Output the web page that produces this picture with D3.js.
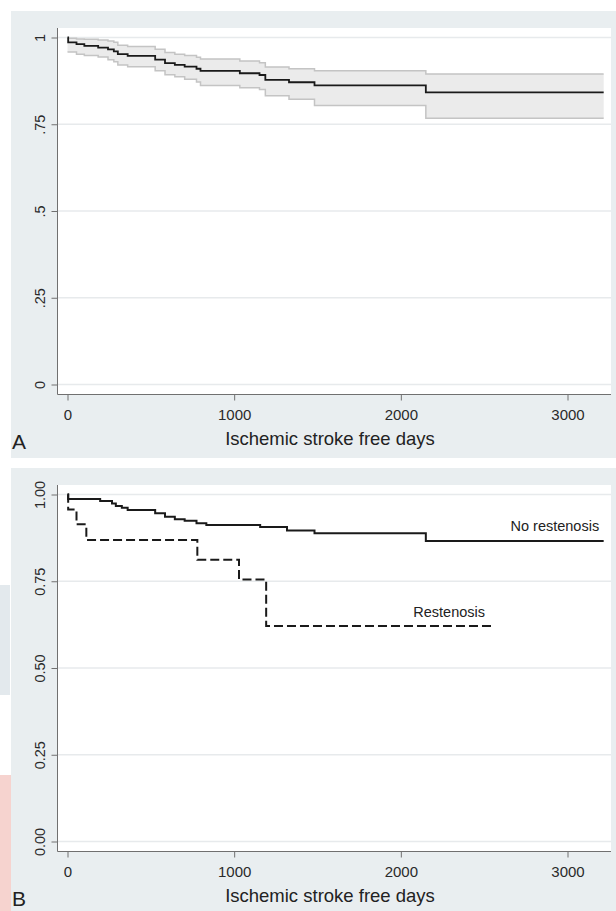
<!DOCTYPE html>
<html>
<head>
<meta charset="utf-8">
<script src="https://cdn.jsdelivr.net/npm/d3@7/dist/d3.min.js"></script>
<style>
  body { margin: 0; background: #fff; }
  svg { display: block; font-family: "Liberation Sans", Arial, sans-serif; }
</style>
</head>
<body>
<svg id="chart"></svg>
<script>
var width = 616;
var height = 911;

// panel A: overall survival with 95% CI
var allTime = [0, 4, 54, 101, 184, 243, 278, 302, 361, 526, 585, 644, 703, 774, 798, 1034, 1152, 1187, 1329, 1482, 2150];
var allSurv = [1, 0.986, 0.981, 0.976, 0.971, 0.966, 0.960, 0.952, 0.947, 0.936, 0.926, 0.921, 0.916, 0.910, 0.904, 0.897, 0.892, 0.878, 0.871, 0.862, 0.842];
var allLow = [0.958, 0.958, 0.952, 0.948, 0.944, 0.936, 0.930, 0.921, 0.916, 0.904, 0.893, 0.887, 0.880, 0.872, 0.862, 0.855, 0.850, 0.832, 0.822, 0.804, 0.767];
var allHigh = [0.998, 0.998, 0.996, 0.995, 0.993, 0.990, 0.986, 0.978, 0.974, 0.966, 0.957, 0.952, 0.948, 0.943, 0.938, 0.932, 0.927, 0.915, 0.910, 0.904, 0.895];
var allEnd = 3217;

// panel B: by restenosis
var noResTime = [0, 4, 196, 267, 290, 326, 361, 526, 585, 644, 703, 774, 833, 1156, 1317, 1482, 2150];
var noResSurv = [1, 0.987, 0.981, 0.974, 0.967, 0.962, 0.955, 0.946, 0.936, 0.929, 0.924, 0.917, 0.912, 0.906, 0.896, 0.888, 0.866];
var noResEnd = 3217;
var resTime = [0, 4, 54, 113, 779, 1029, 1192];
var resSurv = [1, 0.957, 0.914, 0.869, 0.812, 0.755, 0.621];
var resEnd = 2563;

var xTicks = [0, 1000, 2000, 3000];
var yTicks = [0, 0.25, 0.5, 0.75, 1];
var yLabelsA = ['0', '.25', '.5', '.75', '1'];
var yLabelsB = ['0.00', '0.25', '0.50', '0.75', '1.00'];
var xTitle = 'Ischemic stroke free days';

var svg = d3.select('#chart').attr('width', width).attr('height', height);

// faint watermark bits in the left margin
svg.append('rect').attr('x', 0).attr('y', 585).attr('width', 10).attr('height', 110).attr('fill', '#e3e9ed');
svg.append('rect').attr('x', 0).attr('y', 775).attr('width', 11).attr('height', 136).attr('fill', '#f6d3cf');

function toSteps (times, vals, end) {
    var pts = times.map(function (t, i) { return {t: t, v: vals[i]}; });
    pts.push({t: end, v: vals[vals.length - 1]});
    return pts;
}

function panel (top, bottom, yLabels, letter) {
    var left = 11, plotL = 57.5, plotR = 611;
    var plotT = top + 17, axisY = plotT + 366.5;

    var g = svg.append('g');
    g.append('rect').attr('x', left).attr('y', top).attr('width', width - left).attr('height', bottom - top)
      .attr('fill', '#e9eef0');
    g.append('rect').attr('x', plotL).attr('y', plotT).attr('width', plotR - plotL).attr('height', axisY - plotT)
      .attr('fill', '#fff');

    var x = d3.scaleLinear().domain([0, 3000]).range([67.5, 567.5]);
    var y = d3.scaleLinear().domain([0, 1]).range([plotT + 356.5, plotT + 9.5]);

    // grid
    g.selectAll('line.grid').data(yTicks).enter().append('line')
      .attr('class', 'grid')
      .attr('x1', plotL).attr('x2', plotR)
      .attr('y1', function (d) { return y(d); }).attr('y2', function (d) { return y(d); })
      .attr('stroke', '#e7eaec').attr('stroke-width', 1.5);

    // axes
    var yAxis = d3.axisLeft(y).tickValues(yTicks).tickSize(6).tickFormat(function (d, i) { return yLabels[i]; });
    var ya = g.append('g').attr('transform', 'translate(' + plotL + ',0)').call(yAxis)
      .attr('font-family', null).attr('font-size', null);
    ya.select('.domain').remove();
    ya.append('line').attr('x1', 0).attr('x2', 0).attr('y1', plotT).attr('y2', axisY).attr('stroke', '#707070');
    ya.selectAll('.tick line').attr('stroke', '#707070');
    ya.selectAll('.tick text')
      .attr('x', null).attr('dy', null)
      .attr('transform', 'translate(-12.5,0) rotate(-90)')
      .attr('text-anchor', 'middle')
      .style('font-size', '14.5px').attr('fill', '#2a2a2a');

    var xAxis = d3.axisBottom(x).tickValues(xTicks).tickSize(6).tickFormat(d3.format('d'));
    var xa = g.append('g').attr('transform', 'translate(0,' + axisY + ')').call(xAxis)
      .attr('font-family', null).attr('font-size', null);
    xa.select('.domain').remove();
    xa.append('line').attr('x1', plotL).attr('x2', plotR).attr('y1', 0).attr('y2', 0).attr('stroke', '#707070');
    xa.selectAll('.tick line').attr('stroke', '#707070');
    xa.selectAll('.tick text').attr('y', 25.5).attr('dy', null).style('font-size', '15px').attr('fill', '#2a2a2a');

    g.append('text').attr('x', 330).attr('y', axisY + 50.5)
      .attr('text-anchor', 'middle').style('font-size', '18.5px').attr('fill', '#222').text(xTitle);
    g.append('text').attr('x', 12).attr('y', axisY + 54)
      .style('font-size', '21px').attr('fill', '#222').text(letter);

    return {g: g, x: x, y: y};
}

// ---- panel A ----
var A = panel(11, 458, yLabelsA, 'A');
var band = toSteps(allTime, allTime.map(function (t, i) { return i; }), allEnd).map(function (p, i) {
    var k = Math.min(i, allTime.length - 1);
    return {t: p.t, lo: allLow[k], hi: allHigh[k]};
});
A.g.append('path').datum(band)
  .attr('fill', '#ebebeb')
  .attr('d', d3.area().curve(d3.curveStepAfter)
    .x(function (d) { return A.x(d.t); })
    .y0(function (d) { return A.y(d.lo); })
    .y1(function (d) { return A.y(d.hi); }));
['lo', 'hi'].forEach(function (key) {
    A.g.append('path').datum(band)
      .attr('fill', 'none').attr('stroke', '#c4c4c4').attr('stroke-width', 1.5)
      .attr('d', d3.line().curve(d3.curveStepAfter)
        .x(function (d) { return A.x(d.t); })
        .y(function (d) { return A.y(d[key]); }));
});
A.g.append('path').datum(toSteps(allTime, allSurv, allEnd))
  .attr('fill', 'none').attr('stroke', '#1a1a1a').attr('stroke-width', 1.8)
  .attr('d', d3.line().curve(d3.curveStepAfter)
    .x(function (d) { return A.x(d.t); })
    .y(function (d) { return A.y(d.v); }));

// ---- panel B ----
var B = panel(468, 911, yLabelsB, 'B');
var stepLine = d3.line().curve(d3.curveStepAfter)
  .x(function (d) { return B.x(d.t); })
  .y(function (d) { return B.y(d.v); });
B.g.append('path').datum(toSteps(resTime, resSurv, resEnd))
  .attr('fill', 'none').attr('stroke', '#1a1a1a').attr('stroke-width', 2)
  .attr('stroke-dasharray', '9,4')
  .attr('d', stepLine);
B.g.append('path').datum(toSteps(noResTime, noResSurv, noResEnd))
  .attr('fill', 'none').attr('stroke', '#1a1a1a').attr('stroke-width', 2)
  .attr('d', stepLine);

B.g.append('text').attr('x', B.x(3190)).attr('y', B.y(0.896))
  .attr('text-anchor', 'end').style('font-size', '14.5px').attr('fill', '#222').text('No restenosis');
B.g.append('text').attr('x', B.x(2290)).attr('y', B.y(0.646))
  .attr('text-anchor', 'middle').style('font-size', '14.5px').attr('fill', '#222').text('Restenosis');
</script>
</body>
</html>
